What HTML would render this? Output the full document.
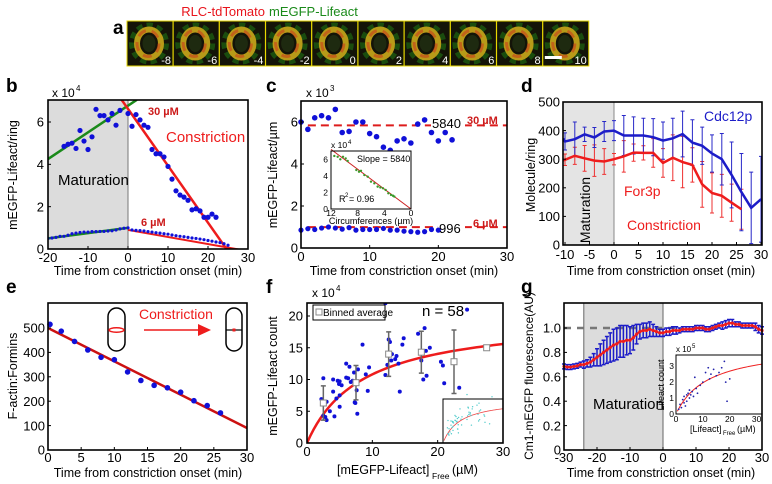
<!DOCTYPE html>
<html><head><meta charset="utf-8"><style>
html,body{margin:0;padding:0;background:#fff;}
svg{display:block;font-family:"Liberation Sans",Arial,sans-serif;}
</style></head><body>
<svg id="fig" width="772" height="484" viewBox="0 0 772 484" xmlns="http://www.w3.org/2000/svg"></svg>
<script>
// ---------- DATA ----------
const tileLabels=['-8','-6','-4','-2','0','2','4','6','8','10'];
// b
const b30x=[-16,-15,-14,-13,-12,-11,-10,-9,-8,-7,-6,-5,-4,-3,-2,0,1,2,3,4,5,6,7,8,9,10,11,12,13,14,15,16,17,18,19,20,21,22];
const b30y=[4.85,4.95,5.0,4.75,5.6,5.1,4.7,5.3,6.6,6.3,6.3,6.1,6.4,5.85,6.55,6.4,5.8,6.35,6.1,5.85,5.75,4.7,4.5,4.5,4.35,3.9,3.3,2.75,2.55,2.45,2.3,1.85,1.9,1.8,1.5,1.5,1.65,1.5];
const b6x=[-20,-19,-18,-17,-16,-15,-14,-13,-12,-11,-10,-9,-8,-7,-6,-5,-4,-3,-2,-1,0,1,2,3,4,5,6,7,8,9,10,11,12,13,14,15,16,17,18,19,20,21,22,23,24,25];
const b6y=[0.5,0.52,0.55,0.6,0.6,0.65,0.72,0.75,0.78,0.8,0.8,0.82,0.82,0.83,0.83,0.85,0.86,0.9,0.95,0.98,1.0,0.9,0.88,0.87,0.85,0.82,0.8,0.77,0.75,0.72,0.7,0.66,0.63,0.6,0.58,0.55,0.52,0.5,0.47,0.44,0.4,0.37,0.33,0.3,0.25,0.18];
const bGreen30=[[-20,4.25],[2.2,7.05]];
const bRed30=[[-1.6,7.05],[25,-0.1]];
const bGreen6=[[-20,0.5],[0,1.0]];
const bRed6=[[0,0.9],[30,-0.1]];
// c
const c30x=[0,1,2,3,4,5,6,7,8,9,10,11,12,13,14,15,16,17,18,19,20,21,22];
const c30y=[6.0,5.65,6.2,6.3,6.2,6.6,5.5,5.55,6.0,6.0,5.45,5.3,4.8,4.65,5.1,5.2,5.0,5.9,6.1,5.5,5.1,5.5,5.15];
const c6x=[0,1,2,3,4,5,6,7,8,9,10,11,12,13,14,15,16,17,18,19,20];
const c6y=[0.85,0.92,0.88,0.95,1.0,0.95,0.9,0.97,0.85,0.88,0.88,0.88,0.93,0.85,0.85,0.8,0.78,0.75,0.78,0.88,0.85];
const cMeans=[5.84,0.996];
const ciX=[11.5,11,10.6,10.2,9.8,9.5,8.2,7.8,7.5,7,6.5,6,5.5,5,4.6,4.2,3.8,3.4,3,2.7,2.5];
const ciY=[6.4,6.3,6.0,6.3,6.1,5.8,4.7,4.5,4.6,4.1,3.9,3.3,3.1,2.7,2.6,2.5,2.3,1.9,1.7,1.6,1.5];
// d
const dX=[-10,-8,-6,-4,-2,0,2,4,6,8,10,12,14,16,18,20,22,24,26,28,30];
const dCdc=[362,370,387,376,397,400,383,383,383,377,365,373,388,358,347,320,300,245,185,130,160];
const dCdcErr=[30,60,25,35,35,35,70,65,60,65,65,70,80,80,65,65,90,115,135,125,150];
const dForX=[-10,-8,-6,-4,-2,0,2,4,6,8,10,12,14,16,18,20,22,24,26];
const dFor=[298,312,303,295,292,300,310,323,322,322,287,305,290,280,212,182,172,148,125];
const dForErr=[20,30,45,55,45,20,55,30,25,50,50,80,90,60,80,70,75,65,70];
// e
const eX=[0.3,2,4,6,8,10,12,14,16,18,20,22,24,26];
const eY=[515,487,445,410,380,370,320,285,265,255,237,202,182,152];
const eFit=[[0,500],[30,90]];
// f
const fX=[2.2,2.5,2.5,2.8,3,3,3.5,4,4,4.2,4.5,4.7,4.9,5,5,5,5.3,6,6,6.3,6.5,6.7,7,7.2,7.3,7.4,7.6,7.7,7.8,8.5,9,9.3,9.5,12,12,12.3,12.5,12.7,12.9,13,13.5,13.7,14,14.2,14.6,14.8,17,17.5,17.8,18,18.2,18.3,18.8,20.5,20.8,21,23.3,24.5];
const fY=[6.9,10.2,4.3,4.1,6.5,3.6,5,10,8.1,4.2,7,9.8,9.3,5.7,7.5,9.7,9.1,12.5,10.3,10.2,12,9.6,9.8,11.1,6.4,6.3,8.3,4.6,11.6,15.5,10.8,8.2,11.9,10.7,22,12.3,16.3,15.9,13,14,13.2,13.7,12.5,8.1,15.5,16.5,17.2,13,10,18.1,14.5,10.6,15,12.8,12.2,9.4,8.7,21];
const fBinX=[2.5,7.5,12.5,17.5,22.5,27.5];
const fBinY=[6.3,9.5,14.0,14.3,12.8,15.0];
const fBinErr=[2.7,2.7,3.5,3.3,5.0,0];
const fBmax=[20.0], fKd=[8.5];
// g
const gX=[-30,-29,-28,-27,-26,-25,-24,-23,-22,-21,-20,-19,-18,-17,-16,-15,-14,-13,-12,-11,-10,-9,-8,-7,-6,-5,-4,-3,-2,-1,0,1,2,3,4,5,6,7,8,9,10,11,12,13,14,15,16,17,18,19,20,21,22,23,24,25,26,27,28,29,30];
const gY=[0.685,0.68,0.68,0.685,0.69,0.7,0.7,0.71,0.72,0.74,0.76,0.78,0.8,0.82,0.84,0.86,0.87,0.89,0.89,0.9,0.9,0.92,0.95,0.97,0.98,0.98,0.99,0.98,0.97,0.96,0.96,0.97,0.97,0.98,0.98,0.98,0.99,0.99,0.99,0.99,1.0,1.0,1.0,0.99,0.99,1.0,1.01,1.02,1.02,1.03,1.04,1.04,1.03,1.03,1.02,1.02,1.02,1.02,1.01,0.99,0.98];
const gErr=[0.02,0.02,0.02,0.02,0.02,0.02,0.03,0.03,0.04,0.05,0.07,0.09,0.1,0.11,0.12,0.13,0.13,0.13,0.13,0.12,0.11,0.1,0.08,0.06,0.06,0.06,0.06,0.05,0.04,0.03,0.03,0.03,0.03,0.03,0.03,0.02,0.02,0.02,0.02,0.02,0.02,0.02,0.02,0.02,0.02,0.02,0.02,0.02,0.03,0.03,0.03,0.03,0.02,0.02,0.02,0.02,0.02,0.02,0.03,0.03,0.03];
const giX=[1,1.5,2,2.5,3,3,3.5,4,4,4.5,5,5,5.5,6,6.5,7,7.5,8,9,10,11,12,12.5,13,14,15,16,17,18,18.5,19,20];
const giY=[0.3,0.6,0.4,0.9,0.7,1.1,0.5,1.2,0.8,1.3,1.0,1.5,1.2,1.4,1.1,2.3,1.6,1.3,1.8,2.0,2.6,2.9,2.2,2.5,2.8,2.4,2.6,2.9,3.3,2.0,0.8,2.2];
const giBmax=[4.3], giKd=[12];

// ---------- HELPERS ----------
const NS='http://www.w3.org/2000/svg';
const svg=document.getElementById('fig');
function el(tag,attrs,parent,text){const e=document.createElementNS(NS,tag);for(const k in attrs)e.setAttribute(k,attrs[k]);if(text!==undefined)e.textContent=text;(parent||svg).appendChild(e);return e;}
function grp(name){const g=el('g',{});return g;}
function scale(d0,d1,r0,r1){return v=>r0+(v-d0)*(r1-r0)/(d1-d0);}
function txt(g,x,y,s,opt){const o=Object.assign({x:x,y:y,'font-size':12,fill:'#000'},opt||{});const t=el('text',o,g,s);return t;}
function box(g,x0,y0,x1,y1,w){const r=el('rect',{x:x0,y:y0,width:x1-x0,height:y1-y0,fill:'none',stroke:'#000','stroke-width':w||1.6},g);}
function xticks(g,X,vals,y,fs,yb){vals.forEach(v=>{txt(g,X(v),y,String(v),{'text-anchor':'middle','font-size':fs||13});el('line',{x1:X(v),x2:X(v),y1:yb,y2:yb-3,stroke:'#000','stroke-width':1},g);});}
function yticks(g,Y,vals,x,fs,xl){vals.forEach(v=>{txt(g,x,Y(v)+(fs||13)*0.36,String(v),{'text-anchor':'end','font-size':fs||13});el('line',{x1:xl,x2:xl+3,y1:Y(v),y2:Y(v),stroke:'#000','stroke-width':1},g);});}
function dots(g,xs,ys,X,Y,r,c,name){xs.forEach((x,i)=>{const d=el('circle',{cx:X(x),cy:Y(ys[i]),r:r,fill:c},g);});}
function seg(g,p,X,Y,c,w,name,extra){const l=el('line',Object.assign({x1:X(p[0][0]),y1:Y(p[0][1]),x2:X(p[1][0]),y2:Y(p[1][1]),stroke:c,'stroke-width':w},extra||{}),g);return l;}
function poly(g,xs,ys,X,Y,c,w,name){const pts=xs.map((x,i)=>X(x)+','+Y(ys[i])).join(' ');const p=el('polyline',{points:pts,fill:'none',stroke:c,'stroke-width':w},g);}
function errs(g,xs,ys,es,X,Y,c,w,cap,name){xs.forEach((x,i)=>{const e=el('path',{d:`M${X(x)},${Y(ys[i]-es[i])}V${Y(ys[i]+es[i])}M${X(x)-cap},${Y(ys[i]-es[i])}h${2*cap}M${X(x)-cap},${Y(ys[i]+es[i])}h${2*cap}`,stroke:c,'stroke-width':w,fill:'none'},g);});}
function clip(id,x0,y0,x1,y1){const d=el('clipPath',{id:id});el('rect',{x:x0,y:y0,width:x1-x0,height:y1-y0},d);}
function letter(s,x,y){const t=txt(svg,x,y,s,{'font-size':19,'font-weight':'bold'});}

// ---------- PANEL A ----------
letter('a',113,34);
{const g=grp('panel-a');
txt(g,265,16,'RLC-tdTomato',{fill:'#e8141c','font-size':13,'text-anchor':'end'});
txt(g,269,16,'mEGFP-Lifeact',{fill:'#1a8a1a','font-size':13});
tileLabels.forEach((lab,i)=>{const x=127+i*46.2;
 const t=el('g',{},g);
 el('rect',{x:x,y:21,width:46,height:45,fill:'#141408',stroke:'#e8d800','stroke-width':1},t);
 const cx=x+22,cy=43.5;
 el('ellipse',{cx:cx,cy:cy,rx:17,ry:18,fill:'none',stroke:'#1f7a14','stroke-width':6,opacity:0.55,'stroke-dasharray':'6,4'},t);
 el('ellipse',{cx:cx,cy:cy,rx:12,ry:14,fill:'none',stroke:'#b89a18','stroke-width':6},t);
 el('ellipse',{cx:cx-1,cy:cy,rx:11,ry:13,fill:'none',stroke:'#c8401a','stroke-width':3,opacity:0.6,'stroke-dasharray':'9,6'},t);
 el('ellipse',{cx:cx,cy:cy,rx:6.5,ry:8.5,fill:'#1e2a10'},t);
 txt(t,x+44,64,lab,{fill:'#fff','font-size':11,'text-anchor':'end'});
 if(i===9)el('rect',{x:x+2,y:56,width:17,height:3,fill:'#fff'},t);
});}

// ---------- PANEL B ----------
letter('b',6,92);
{const g=grp('panel-b');const X=scale(-20,30,48,248),Y=scale(0,6,249,122);
clip('cb',48,100,248,249);
const gr=el('rect',{x:X(-20),y:100,width:X(0)-X(-20),height:149,fill:'#dcdcdc'},g);
el('line',{x1:X(0),x2:X(0),y1:100,y2:249,stroke:'#777','stroke-width':1},g);
const c=el('g',{'clip-path':'url(#cb)'},g);
seg(c,bGreen30,X,Y,'#1a8a1a',2.5,'fit-line-maturation-30');
seg(c,bRed30,X,Y,'#ee1c1c',2.5,'fit-line-constriction-30');
seg(c,bGreen6,X,Y,'#1a8a1a',2.5,'fit-line-maturation-6');
seg(c,bRed6,X,Y,'#ee1c1c',2,'fit-line-constriction-6');
dots(c,b30x,b30y,X,Y,2.6,'#1010d8','point-30uM');
dots(c,b6x,b6y,X,Y,1.6,'#1010d8','point-6uM');
box(g,48,100,248,249);
xticks(g,X,[-20,-10,0,10,20,30],262,13,249);
yticks(g,Y,[0,2,4,6],44,13,48);
txt(g,52,97,'x 10',{'font-size':12});txt(g,76,91,'4',{'font-size':8});
txt(g,58,185,'Maturation',{'font-size':15});
txt(g,166,142,'Constriction',{'font-size':15,fill:'#ee1c1c'});
txt(g,148,115,'30 µM',{'font-size':11,fill:'#cc1a1a','font-weight':'bold'});
txt(g,141,226,'6 µM',{'font-size':11,fill:'#cc1a1a','font-weight':'bold'});
txt(g,148,275,'Time from constriction onset (min)',{'font-size':12.5,'text-anchor':'middle'});
txt(g,0,0,'mEGFP-Lifeact/ring',{'font-size':12.5,'text-anchor':'middle',transform:'translate(17,175) rotate(-90)'});}

// ---------- PANEL C ----------
letter('c',266,92);
{const g=grp('panel-c');const X=scale(0,30,301,507),Y=scale(0,6,248,122);
cMeans.forEach((m,i)=>{const l=el('line',{x1:X(1),x2:X(30),y1:Y(m),y2:Y(m),stroke:'#dd1c1c','stroke-width':2,'stroke-dasharray':'8,5'},g);});
el('rect',{x:431,y:Y(cMeans[0])-12,width:34,height:16,fill:'#fff'},g);
el('rect',{x:438,y:Y(cMeans[1])-10,width:27,height:16,fill:'#fff'},g);
dots(g,c30x,c30y,X,Y,2.8,'#1010d8','point-30uM');
dots(g,c6x,c6y,X,Y,2.6,'#1010d8','point-6uM');
box(g,301,101,507,248);
xticks(g,X,[0,10,20,30],261,13,248);
yticks(g,Y,[0,2,4,6],298,13,301);
txt(g,306,97,'x 10',{'font-size':12});txt(g,330,91,'3',{'font-size':8});
txt(g,432,128,String(cMeans[0]*1000),{'font-size':13});
txt(g,467,124,'30 µM',{'font-size':11,fill:'#cc1a1a','font-weight':'bold'});
txt(g,439,233,String(Math.round(cMeans[1]*1000)),{'font-size':13});
txt(g,473,227,'6 µM',{'font-size':11,fill:'#cc1a1a','font-weight':'bold'});
txt(g,404,275,'Time from constriction onset (min)',{'font-size':12.5,'text-anchor':'middle'});
txt(g,0,0,'mEGFP-Lifeact/µm',{'font-size':12.5,'text-anchor':'middle',transform:'translate(277,175) rotate(-90)'});
// inset
const ig=grp('inset-c');g.appendChild(ig);
el('rect',{x:331,y:151,width:80,height:58,fill:'#fff'},ig);
const IX=scale(12,0,331,411),IY=scale(0,7,209,151);
seg(ig,[[12,7.2],[0,0]],IX,IY,'#cc2222',1,'inset-fit-line');
dots(ig,ciX,ciY,IX,IY,1.2,'#3a9a2a','inset-point');
box(ig,331,151,411,209,1);
[12,8,4,0].forEach(v=>txt(ig,IX(v),216,String(v),{'font-size':8.5,'text-anchor':'middle'}));
[0,2,4,6].forEach(v=>txt(ig,328,IY(v)+3,String(v),{'font-size':8.5,'text-anchor':'end'}));
txt(ig,331,148,'x 10',{'font-size':8.5});txt(ig,348,144,'4',{'font-size':6});
txt(ig,357,162,'Slope = 5840',{'font-size':9});
txt(ig,339,202,'R',{'font-size':9});txt(ig,345,197,'2',{'font-size':6});txt(ig,349,202,'= 0.96',{'font-size':9});
txt(ig,371,224,'Circumferences (µm)',{'font-size':9,'text-anchor':'middle'});}

// ---------- PANEL D ----------
letter('d',521,92);
{const g=grp('panel-d');const X=scale(0,30,614,761),Y=scale(0,500,245,102);
const gr=el('rect',{x:563,y:102,width:614-563,height:143,fill:'#e4e4e4'},g);
el('line',{x1:614,x2:614,y1:102,y2:245,stroke:'#888','stroke-width':1},g);
clip('cd',563,102,762,245);
const c=el('g',{'clip-path':'url(#cd)'},g);
errs(c,dForX,dFor,dForErr,X,Y,'#ee3030',1,2,'error-bar-for3p');
errs(c,dX,dCdc,dCdcErr,X,Y,'#2828c8',1,2,'error-bar-cdc12p');
poly(c,[-10.4].concat(dForX),[296].concat(dFor),X,Y,'#ee1c1c',2.5,'line-for3p');
poly(c,[-10.4].concat(dX),[372].concat(dCdc),X,Y,'#1c1cc8',2.5,'line-cdc12p');
box(g,563,102,762,245);
xticks(g,X,[-10,-5,0,5,10,15,20,25,30],259,13,245);
yticks(g,Y,[0,100,200,300,400,500],560,13,563);
txt(g,704,121,'Cdc12p',{'font-size':14,fill:'#1c1cc8'});
txt(g,624,196,'For3p',{'font-size':14,fill:'#ee1c1c'});
txt(g,627,230,'Constriction',{'font-size':14,fill:'#ee1c1c'});
txt(g,0,0,'Maturation',{'font-size':14,'text-anchor':'middle',transform:'translate(590,210) rotate(-90)'});
txt(g,661,275,'Time from constriction onset (min)',{'font-size':12.5,'text-anchor':'middle'});
txt(g,0,0,'Molecule/ring',{'font-size':12.5,'text-anchor':'middle',transform:'translate(535,175) rotate(-90)'});}

// ---------- PANEL E ----------
letter('e',6,293);
{const g=grp('panel-e');const X=scale(0,30,48,247),Y=scale(0,500,450,328);
seg(g,eFit,X,Y,'#cc1111',2.5,'fit-line');
dots(g,eX,eY,X,Y,2.8,'#1010d8','point');
box(g,48,303,247,450);
xticks(g,X,[0,5,10,15,20,25,30],462,13,450);
yticks(g,Y,[0,100,200,300,400,500],45,13,48);
const cell=grp('cell-diagram');g.appendChild(cell);
el('rect',{x:108,y:308,width:17,height:43,rx:8.5,fill:'none',stroke:'#000','stroke-width':1.5},cell);
el('ellipse',{cx:116.5,cy:330,rx:7.5,ry:2.2,fill:'none',stroke:'#ee1c1c','stroke-width':1.5},cell);
el('rect',{x:226,y:308,width:16,height:43,rx:8,fill:'none',stroke:'#000','stroke-width':1.5},cell);
el('line',{x1:226,x2:242,y1:330,y2:330,stroke:'#000','stroke-width':1.2},cell);
el('rect',{x:232.5,y:328.5,width:3,height:3,fill:'#ee1c1c'},cell);
el('line',{x1:144,x2:200,y1:330,y2:330,stroke:'#ee1c1c','stroke-width':1.5},cell);
el('polygon',{points:'198,324 211,330 198,336',fill:'#ee1c1c'},cell);
txt(g,139,319,'Constriction',{'font-size':14,fill:'#ee1c1c'});
txt(g,148,477,'Time from constriction onset (min)',{'font-size':12.5,'text-anchor':'middle'});
txt(g,0,0,'F-actin:Formins',{'font-size':12.5,'text-anchor':'middle',transform:'translate(17,376) rotate(-90)'});}

// ---------- PANEL F ----------
letter('f',266,293);
{const g=grp('panel-f');const X=scale(0,30,307,503),Y=scale(0,20,443,316);
clip('cf',307,303,503,443);
const c=el('g',{'clip-path':'url(#cf)'},g);
const cx=[],cy=[];for(let i=0;i<=60;i++){const v=i*0.5;cx.push(v);cy.push(fBmax[0]*v/(fKd[0]+v));}
poly(c,cx,cy,X,Y,'#ee1c1c',2.5,'binding-curve');
dots(c,fX,fY,X,Y,2,'#1010d8','point');
errs(c,fBinX,fBinY,fBinErr,X,Y,'#666',1.5,2.5,'bin-error-bar');
fBinX.forEach((x,i)=>{const r=el('rect',{x:X(x)-3,y:Y(fBinY[i])-3,width:6,height:6,fill:'#fff',stroke:'#888','stroke-width':1},c);});
// inset
const ig=grp('inset-f');g.appendChild(ig);
el('rect',{x:443,y:399,width:60,height:44,fill:'#fff'},ig);
const IX=scale(0,30,443,503),IY=scale(0,20,443,399);
const ix=[],iy=[];for(let i=1;i<=60;i++){const v=i*0.5;ix.push(v);iy.push(fBmax[0]*v/(fKd[0]+v));}
poly(ig,ix,iy,IX,IY,'#ee4444',0.8,'inset-curve');
dots(ig,fX,fY,IX,IY,0.7,'#55cccc','inset-point');
box(ig,443,399,503,443,1);
box(g,307,303,503,443);
xticks(g,X,[0,10,20,30],456,13,443);
yticks(g,Y,[0,5,10,15,20],303,13,307);
txt(g,312,297,'x 10',{'font-size':12});txt(g,336,291,'4',{'font-size':8});
const lg=grp('legend');g.appendChild(lg);
el('rect',{x:313,y:305,width:72,height:15,fill:'#fff',stroke:'#000','stroke-width':1},lg);
el('rect',{x:316,y:309,width:6,height:6,fill:'#fff',stroke:'#888','stroke-width':1},lg);
txt(lg,323,316,'Binned average',{'font-size':10});
txt(g,422,316,'n = 58',{'font-size':15});
txt(g,337,474,'[mEGFP-Lifeact]',{'font-size':12.5});
txt(g,432,479,'Free',{'font-size':8.5});txt(g,452,474,'(µM)',{'font-size':12.5});
txt(g,0,0,'mEGFP-Lifeact count',{'font-size':12.5,'text-anchor':'middle',transform:'translate(277,376) rotate(-90)'});}

// ---------- PANEL G ----------
letter('g',521,293);
{const g=grp('panel-g');const X=scale(-30,30,564,762),Y=scale(0,1,450,328);
const gr=el('rect',{x:X(-24),y:303,width:X(0)-X(-24),height:147,fill:'#dcdcdc'},g);
el('line',{x1:X(-24),x2:X(-24),y1:303,y2:450,stroke:'#666','stroke-width':1},g);
el('line',{x1:X(0),x2:X(0),y1:303,y2:450,stroke:'#666','stroke-width':1},g);
const dl=el('line',{x1:X(-30),x2:X(5),y1:Y(1),y2:Y(1),stroke:'#777','stroke-width':2.5,'stroke-dasharray':'7,6'},g);
errs(g,gX,gY,gErr,X,Y,'#1c1cc8',1.5,2,'error-bar');
poly(g,gX,gY,X,Y,'#ee1c1c',2,'mean-line');
dots(g,gX,gY,X,Y,1.6,'#ee1c1c','mean-point');
// inset
const ig=grp('inset-g');g.appendChild(ig);
el('rect',{x:676,y:355,width:86,height:59,fill:'#fff'},ig);
const IX=scale(0,32,676,762),IY=scale(0,3.7,414,355);
const ix=[],iy=[];for(let i=1;i<=64;i++){const v=i*0.5;ix.push(v);iy.push(giBmax[0]*v/(giKd[0]+v));}
poly(ig,ix,iy,IX,IY,'#ee2222',1,'inset-curve');
dots(ig,giX,giY,IX,IY,0.9,'#2222aa','inset-point');
box(ig,676,355,762,414,1);
[0,10,20,30].forEach(v=>txt(ig,IX(v),422,String(v),{'font-size':8.5,'text-anchor':'middle'}));
[0,1,2,3].forEach(v=>txt(ig,674,IY(v)+3,String(v),{'font-size':8.5,'text-anchor':'end'}));
txt(ig,676,352,'x 10',{'font-size':8});txt(ig,692,348,'5',{'font-size':6});
txt(ig,690,432,'[Lifeact]',{'font-size':9});txt(ig,723,435,'Free',{'font-size':6});txt(ig,737,432,'(µM)',{'font-size':9});
txt(ig,0,0,'Lifeact count',{'font-size':9,'text-anchor':'middle',transform:'translate(664,385) rotate(-90)'});
box(g,564,303,762,450);
xticks(g,X,[-30,-20,-10,0,10,20,30],462,13,450);
yticks(g,Y,[0,0.2,0.4,0.6,0.8,1.0],561,13,564);
txt(g,593,409,'Maturation',{'font-size':15});
txt(g,661,477,'Time from constriction onset (min)',{'font-size':12.5,'text-anchor':'middle'});
txt(g,0,0,'Cm1-mEGFP fluorescence(AU)',{'font-size':12,'text-anchor':'middle',transform:'translate(533,376) rotate(-90)'});}
document.querySelectorAll('#fig text').forEach(t=>{if(t.textContent==='1'&&+t.getAttribute('x')===561)t.textContent='1.0';});
</script>
</body></html>
